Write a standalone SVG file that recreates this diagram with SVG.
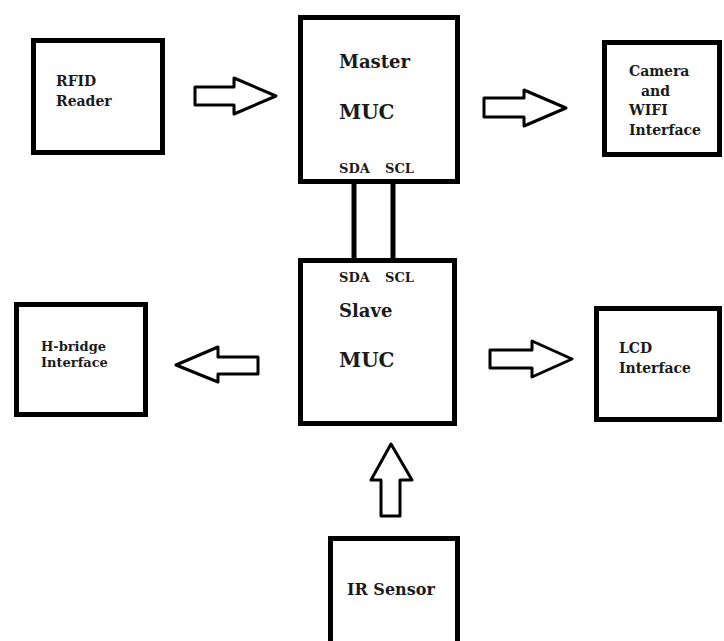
<svg xmlns="http://www.w3.org/2000/svg" width="724" height="641" viewBox="0 0 724 641">
<style>
.box{fill:#fff;stroke:#000;stroke-width:5}
.arr{fill:#fff;stroke:#000;stroke-width:3;stroke-linejoin:round}
.wire{stroke:#000;stroke-width:5;fill:none}
text{font-family:"DejaVu Serif","Liberation Serif",serif;font-weight:bold;fill:#1a1a1a}
.big{font-size:18px}
.muc{font-size:20px}
.mid{font-size:14px}
.sm{font-size:13px}
</style>
<rect width="724" height="641" fill="#fff"/>
<g id="connectors">
<line class="wire" x1="354" y1="182" x2="354" y2="260"/>
<line class="wire" x1="393" y1="182" x2="393" y2="260"/>
<polygon class="arr" points="195,87 234,87 234,78 276,96 234,114 234,105 195,105"/>
<polygon class="arr" points="484,98 524,98 524,90 566,108 524,126 524,117 484,117"/>
<polygon class="arr" points="258,357 218,357 218,347 176,365 218,382 218,374 258,374"/>
<polygon class="arr" points="490,350 532,350 532,341 572,359 532,377 532,368 490,368"/>
<polygon class="arr" points="381,516 381,480 371,480 391,444 412,480 400,480 400,516"/>
</g>
<g id="rfid">
<rect class="box" x="33.5" y="40.5" width="129" height="112"/>
<text class="mid" x="56" y="86">RFID</text>
<text class="mid" x="56" y="106">Reader</text>
</g>
<g id="master">
<rect class="box" x="300.5" y="17.5" width="157" height="164"/>
<text class="big" x="339" y="68">Master</text>
<text class="muc" x="339" y="119">MUC</text>
<text class="sm" x="339" y="173">SDA</text>
<text class="sm" x="385" y="173">SCL</text>
</g>
<g id="camera">
<rect class="box" x="604.5" y="42.5" width="115" height="112"/>
<text class="mid" x="629" y="76">Camera</text>
<text class="mid" x="641" y="96">and</text>
<text class="mid" x="629" y="115">WIFI</text>
<text class="mid" x="629" y="135">Interface</text>
</g>
<g id="slave">
<rect class="box" x="300.5" y="260.5" width="154" height="163"/>
<text class="sm" x="339" y="282">SDA</text>
<text class="sm" x="385" y="282">SCL</text>
<text class="big" x="339" y="317">Slave</text>
<text class="muc" x="339" y="367">MUC</text>
</g>
<g id="hbridge">
<rect class="box" x="16.5" y="304.5" width="129" height="110"/>
<text class="sm" x="41" y="351">H-bridge</text>
<text class="sm" x="41" y="367">Interface</text>
</g>
<g id="lcd">
<rect class="box" x="596.5" y="308.5" width="123" height="111"/>
<text class="mid" x="619" y="353">LCD</text>
<text class="mid" x="619" y="373">Interface</text>
</g>
<g id="ir">
<rect class="box" x="330.5" y="538.5" width="127" height="120"/>
<text x="347" y="595" style="font-size:16px">IR Sensor</text>
</g>
</svg>
